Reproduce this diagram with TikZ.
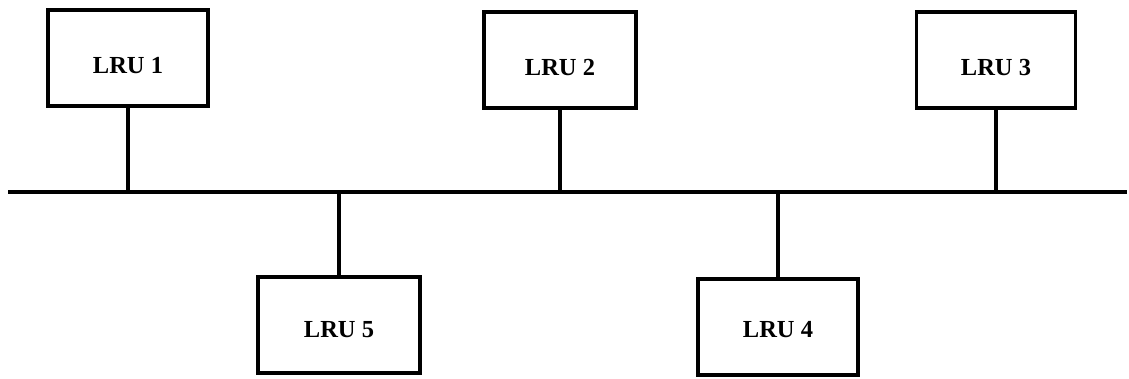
\documentclass[tikz,border=0pt]{standalone}
\usepackage{fontspec}
\setmainfont{Liberation Serif}
\begin{document}
\begin{tikzpicture}[x=1pt,y=-1pt,
  lru/.style={draw=black, line width=3.5pt, fill=white, minimum width=#1, minimum height=96pt, inner sep=0pt},
  lbl/.style={font=\fontsize{24.5}{26}\selectfont\bfseries, inner sep=0pt},
  wire/.style={line width=3.5pt}]
\useasboundingbox (0,0) rectangle (1129,379);
\coordinate (busL) at (8,192);
\coordinate (busR) at (1127,192);
\draw[wire] (busL) -- (busR);
\node[lru=160pt] (l1) at (128,58) {};
\node[lru=152pt] (l2) at (560,60) {};
\node[lru=159pt] (l3) at (996,60) {};
\node[lru=162pt] (l5) at (339,325) {};
\node[lru=160pt] (l4) at (778,327) {};
\node[lbl] (t1) at ([yshift=-8pt]l1.center) {LRU 1};
\node[lbl] (t2) at ([yshift=-8pt]l2.center) {LRU 2};
\node[lbl] (t3) at ([yshift=-8pt]l3.center) {LRU 3};
\node[lbl] (t5) at ([yshift=-5pt]l5.center) {LRU 5};
\node[lbl] (t4) at ([yshift=-3pt]l4.center) {LRU 4};
\draw[wire] (l1.south) -- (l1.south |- busL);
\draw[wire] (l2.south) -- (l2.south |- busL);
\draw[wire] (l3.south) -- (l3.south |- busL);
\draw[wire] (l5.north) -- (l5.north |- busL);
\draw[wire] (l4.north) -- (l4.north |- busL);
\end{tikzpicture}
\end{document}
